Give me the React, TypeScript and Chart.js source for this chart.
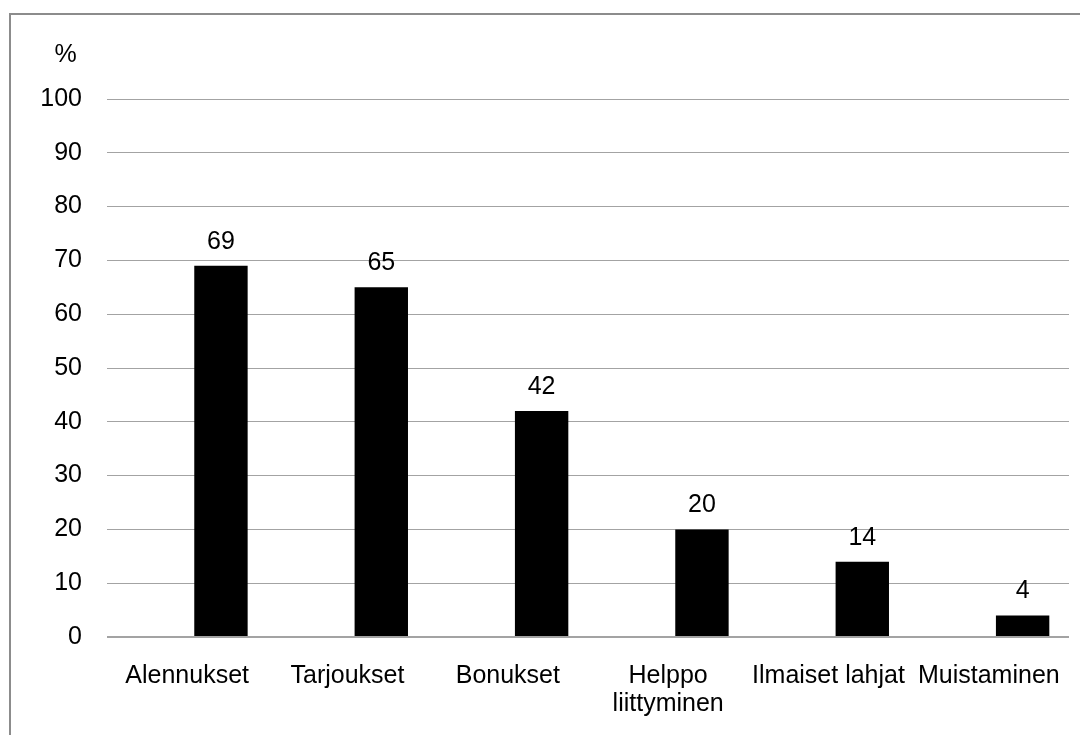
import React, { useEffect, useRef } from "react";
import { Chart, registerables } from "chart.js";

Chart.register(...registerables);

// Survey answers, percent of respondents
const categories: (string | string[])[] = [
  "Alennukset",
  "Tarjoukset",
  "Bonukset",
  ["Helppo", "liittyminen"],
  "Ilmaiset lahjat",
  "Muistaminen",
];
const shares: number[] = [69, 65, 42, 20, 14, 4];
const yTicks: number[] = [0, 10, 20, 30, 40, 50, 60, 70, 80, 90, 100];
const unitLabel = "%";

const FONT = "'Liberation Sans', Arial, sans-serif";

// Writes the value above each bar and the unit label above the y axis.
const annotations = {
  id: "annotations",
  afterDatasetsDraw(chart: any) {
    const ctx = chart.ctx;
    ctx.save();
    ctx.fillStyle = "#000";
    ctx.font = `25px ${FONT}`;
    ctx.textAlign = "center";
    ctx.textBaseline = "alphabetic";
    const meta = chart.getDatasetMeta(1);
    meta.data.forEach((bar: any, i: number) => {
      ctx.fillText(String(shares[i]), bar.x, bar.y - 17);
    });
    ctx.fillText(unitLabel, 65.5, 62);
    ctx.restore();
  },
};

export default function App() {
  const canvasRef = useRef<HTMLCanvasElement | null>(null);

  useEffect(() => {
    if (!canvasRef.current) return;
    const chart = new Chart(canvasRef.current, {
      type: "bar",
      data: {
        labels: categories,
        datasets: [
          {
            // empty leading series, keeps the bars right of the category centre
            label: "",
            data: categories.map(() => null),
            backgroundColor: "#000",
          },
          {
            label: unitLabel,
            data: shares,
            backgroundColor: "#000",
            borderWidth: 0,
          },
        ],
      },
      options: {
        animation: false,
        responsive: false,
        maintainAspectRatio: false,
        datasets: {
          bar: { categoryPercentage: 0.843, barPercentage: 0.79 },
        },
        layout: { padding: { left: 0, right: 19, top: 99, bottom: 0 } },
        plugins: {
          legend: { display: false },
          tooltip: { enabled: false },
        },
        scales: {
          x: {
            grid: { display: false, drawTicks: false },
            border: { display: false },
            ticks: {
              color: "#000",
              font: { family: FONT, size: 25, lineHeight: 1.12 },
              padding: 25,
              maxRotation: 0,
              autoSkip: false,
            },
            afterFit: (s: any) => {
              s.height = 98;
            },
          },
          y: {
            min: 0,
            max: 100,
            afterBuildTicks: (s: any) => {
              s.ticks = yTicks.map((v) => ({ value: v }));
            },
            grid: {
              drawTicks: false,
              color: "#a3a3a3",
              lineWidth: (c: any) => (c.tick && c.tick.value === 0 ? 2 : 1),
            },
            border: { display: false },
            ticks: {
              color: "#000",
              font: { family: FONT, size: 25 },
              padding: 25,
            },
            afterFit: (s: any) => {
              s.width = 107;
            },
          },
        },
      },
      plugins: [annotations],
    });
    return () => chart.destroy();
  }, []);

  return (
    <div
      style={{
        position: "relative",
        margin: "-8px 0 0 -8px",
        width: 1088,
        height: 735,
        overflow: "hidden",
        background: "#fff",
      }}
    >
      <div
        style={{
          position: "absolute",
          left: 9,
          top: 13,
          width: 1200,
          height: 900,
          border: "2px solid #8c8c8c",
          boxSizing: "border-box",
        }}
      />
      <canvas
        ref={canvasRef}
        width={1088}
        height={735}
        style={{ position: "absolute", left: 0, top: 0, width: 1088, height: 735 }}
      />
    </div>
  );
}
